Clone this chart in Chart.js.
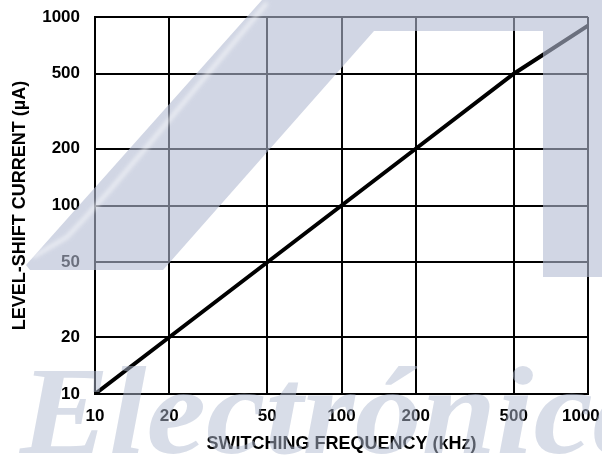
<!DOCTYPE html>
<html>
<head>
<meta charset="utf-8">
<script src="https://cdn.jsdelivr.net/npm/chart.js@4.4.0/dist/chart.umd.min.js"></script>
<style>
  html, body { margin: 0; padding: 0; background: #fff; }
  #wrap { width: 602px; height: 457px; }
</style>
</head>
<body>
<div id="wrap"><canvas id="myChart" width="602" height="457"></canvas></div>
<script>
// switching frequency (kHz) vs level-shift current (uA)
const freq = [10, 20, 50, 100, 200, 500, 1000]
const current = [10, 20, 50, 100, 200, 500, 900]
const xTicks = [10, 20, 50, 100, 200, 500, 1000]
const yTicks = [10, 20, 50, 100, 200, 500, 1000]

const FONT = '"Liberation Sans", Arial, sans-serif'

// light blue logo + lettering laid over the finished chart
const watermark = {
    id: 'watermark',
    afterDraw(chart) {
        const ctx = chart.ctx
        ctx.save()
        ctx.fillStyle = 'rgba(178, 187, 210, 0.6)'
        ctx.beginPath()
        ctx.moveTo(262, 0)
        ctx.lineTo(602, 0)
        ctx.lineTo(602, 277)
        ctx.lineTo(543, 277)
        ctx.lineTo(543, 31)
        ctx.lineTo(374, 31)
        ctx.lineTo(163, 270)
        ctx.lineTo(30, 270)
        ctx.lineTo(26, 265)
        ctx.closePath()
        ctx.fill()

        // soft highlight along the band
        ctx.filter = 'blur(2px)'
        ctx.strokeStyle = 'rgba(255, 255, 255, 0.75)'
        ctx.lineWidth = 3
        ctx.beginPath()
        ctx.moveTo(33, 257)
        ctx.lineTo(67, 237)
        ctx.lineTo(83, 220)
        ctx.lineTo(110, 190)
        ctx.lineTo(150, 143)
        ctx.lineTo(200, 83)
        ctx.lineTo(267, 3)
        ctx.stroke()
        ctx.filter = 'none'

        // stretched italic lettering along the bottom
        ctx.filter = 'blur(0.6px)'
        ctx.fillStyle = 'rgba(178, 187, 210, 0.5)'
        ctx.font = 'italic bold 124px "Liberation Serif", "Times New Roman", serif'
        ctx.textBaseline = 'alphabetic'
        ctx.textAlign = 'left'
        ctx.translate(20, 453)
        ctx.scale(1.08, 1)
        ctx.fillText('Electrónica', 0, 0)
        ctx.restore()
    }
}

const ctx = document.getElementById('myChart').getContext('2d')
const myChart = new Chart(ctx, {
    type: 'scatter',
    data: {
        datasets: [{
            data: freq.map((f, i) => ({ x: f, y: current[i] })),
            showLine: true,
            borderColor: '#000',
            borderWidth: 4,
            pointRadius: 0,
            fill: false,
            tension: 0
        }]
    },
    options: {
        responsive: false,
        animation: false,
        devicePixelRatio: 1,
        layout: { padding: { left: 0, top: 17, right: 14, bottom: 0 } },
        plugins: {
            legend: { display: false },
            tooltip: { enabled: false }
        },
        scales: {
            x: {
                type: 'logarithmic',
                min: 10,
                max: 1000,
                afterBuildTicks: s => { s.ticks = xTicks.map(v => ({ value: v })) },
                afterFit: s => { s.height = 63; s.paddingLeft = 0; s.paddingRight = 0 },
                ticks: {
                    // last label is pulled left so it stays on the canvas
                    callback: v => v === 1000 ? '1000\u00a0\u00a0\u00a0' : String(v),
                    color: '#000',
                    font: { family: FONT, size: 17, weight: 'bold' },
                    padding: 12,
                    maxRotation: 0,
                    autoSkip: false
                },
                grid: { color: '#000', lineWidth: 2, drawTicks: false },
                border: { display: true, color: '#000', width: 2 },
                title: {
                    display: true,
                    text: 'SWITCHING FREQUENCY (kHz)',
                    color: '#000',
                    font: { family: FONT, size: 18, weight: 'bold' },
                    padding: { top: 0, bottom: 2 }
                }
            },
            y: {
                type: 'logarithmic',
                min: 10,
                max: 1000,
                afterBuildTicks: s => { s.ticks = yTicks.map(v => ({ value: v })) },
                afterFit: s => { s.width = 95; s.paddingTop = 0; s.paddingBottom = 0 },
                ticks: {
                    callback: v => String(v),
                    color: '#000',
                    font: { family: FONT, size: 17, weight: 'bold' },
                    padding: 15,
                    autoSkip: false
                },
                grid: { color: '#000', lineWidth: 2, drawTicks: false },
                border: { display: true, color: '#000', width: 2 },
                title: {
                    display: true,
                    text: 'LEVEL-SHIFT CURRENT (µA)',
                    color: '#000',
                    font: { family: FONT, size: 18, weight: 'bold' },
                    padding: { top: 9, bottom: 0 }
                }
            }
        }
    },
    plugins: [watermark]
})
</script>
</body>
</html>
